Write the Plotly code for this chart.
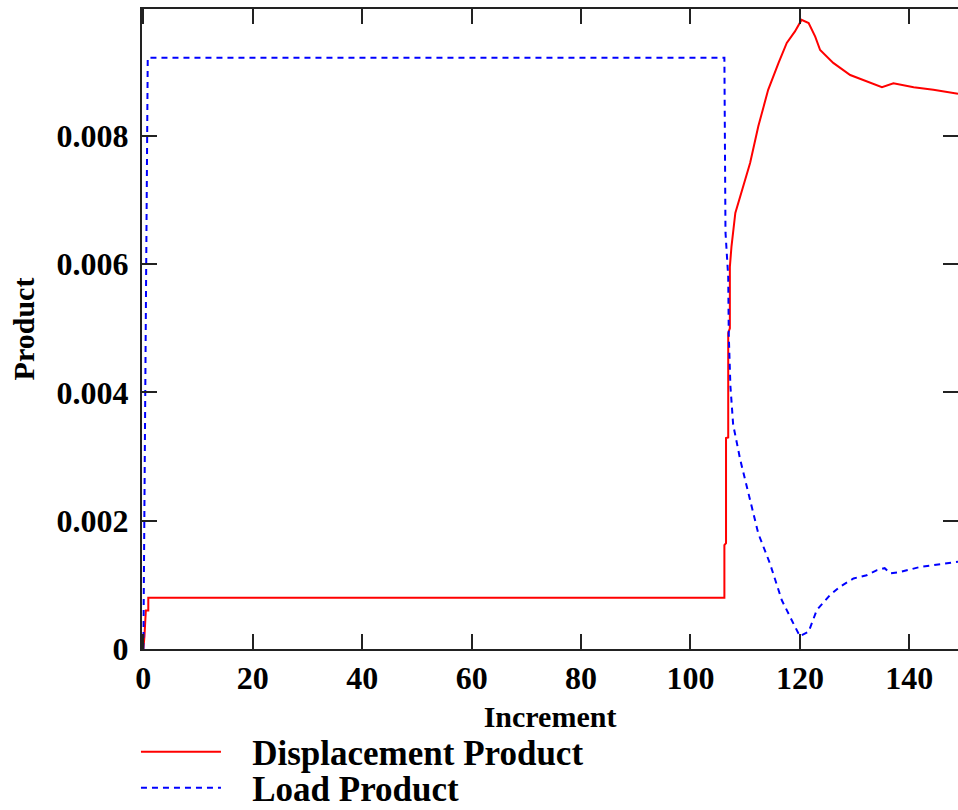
import plotly.graph_objects as go

# Displacement Product (red, solid)
disp_x = [0, 0.2, 0.45, 0.9, 0.9, 106.2, 106.2, 106.5, 106.5, 106.9, 106.9, 107.2, 107.2,
          107.5, 108.2, 109.4, 110.9, 112.4, 114.2, 116.1, 117.6, 119.1, 120.3, 121.6,
          122.8, 123.7, 126.1, 129.2, 132.2, 135.0, 137.1, 140.8, 144.4, 148.0, 148.9]
disp_y = [0, 0.0002, 0.0006, 0.0006, 0.0008, 0.0008, 0.00162, 0.00165, 0.00329, 0.0033,
          0.00493, 0.005, 0.00596, 0.00628, 0.0068, 0.00716, 0.00758, 0.00815, 0.00872,
          0.00914, 0.00945, 0.00963, 0.00981, 0.00976, 0.00955, 0.00934, 0.00914, 0.00895,
          0.00885, 0.00876, 0.00882, 0.00876, 0.00872, 0.00867, 0.00866]

# Load Product (blue, dashed)
load_x = [0, 0.8, 106.2, 106.4, 106.9, 107.0, 107.3, 107.8, 109.1, 110.6, 112.4, 114.5,
          116.7, 118.8, 120.0, 121.6, 123.1, 125.5, 127.3, 129.8, 132.2, 134.1, 135.5,
          136.5, 138.3, 142.0, 146.9, 148.9]
load_y = [0, 0.00922, 0.00922, 0.0065, 0.0058, 0.0049, 0.0041, 0.0035, 0.00295, 0.00243,
          0.0018, 0.00134, 0.00076, 0.0004, 0.0002, 0.00027, 0.00061, 0.00084, 0.00097,
          0.0011, 0.00115, 0.00123, 0.00126, 0.00118, 0.0012, 0.00128, 0.00134, 0.00136]

x_ticks = [0, 20, 40, 60, 80, 100, 120, 140]
y_ticks = [0, 0.002, 0.004, 0.006, 0.008]
y_tick_labels = ["0", "0.002", "0.004", "0.006", "0.008"]

FONT = "Liberation Serif"
PAD = "\u00a0\u00a0\u00a0"

fig = go.Figure()
fig.add_trace(go.Scatter(x=disp_x, y=disp_y, mode="lines", name=PAD + "Displacement Product",
                         line=dict(color="#ff0000", width=2), legend="legend"))
fig.add_trace(go.Scatter(x=load_x, y=load_y, mode="lines", name=PAD + "Load Product",
                         line=dict(color="#0000ff", width=2, dash="6px,5px"), legend="legend2"))

axis_common = dict(showline=True, linecolor="#222222", linewidth=2, mirror="ticks",
                   ticks="inside", ticklen=15, tickwidth=2, tickcolor="#222222",
                   showgrid=False, zeroline=False,
                   tickfont=dict(family=FONT, size=32, color="black", weight="bold"))

fig.update_xaxes(range=[-0.25, 148.9], tickvals=x_ticks, **axis_common,
                 title=dict(text="Increment", font=dict(family=FONT, size=30, color="black", weight="bold"),
                            standoff=11))
fig.update_yaxes(range=[0, 0.00998], tickvals=y_ticks, ticktext=y_tick_labels, **axis_common,
                 ticklabelstandoff=5,
                 title=dict(text="Product", font=dict(family=FONT, size=30, color="black", weight="bold"),
                            standoff=13))

legend_font = dict(family=FONT, size=35, color="black", weight="bold")
fig.update_layout(
    width=958, height=810,
    margin=dict(l=142, r=0, t=9, b=161, autoexpand=False),
    paper_bgcolor="white", plot_bgcolor="white",
    showlegend=True,
    legend=dict(x=-0.0074, y=-0.1610, xanchor="left", yanchor="middle", font=legend_font,
                itemwidth=80, bgcolor="rgba(0,0,0,0)"),
    legend2=dict(x=-0.0074, y=-0.2170, xanchor="left", yanchor="middle", font=legend_font,
                 itemwidth=80, bgcolor="rgba(0,0,0,0)"),
)

fig.write_html("out.html")
